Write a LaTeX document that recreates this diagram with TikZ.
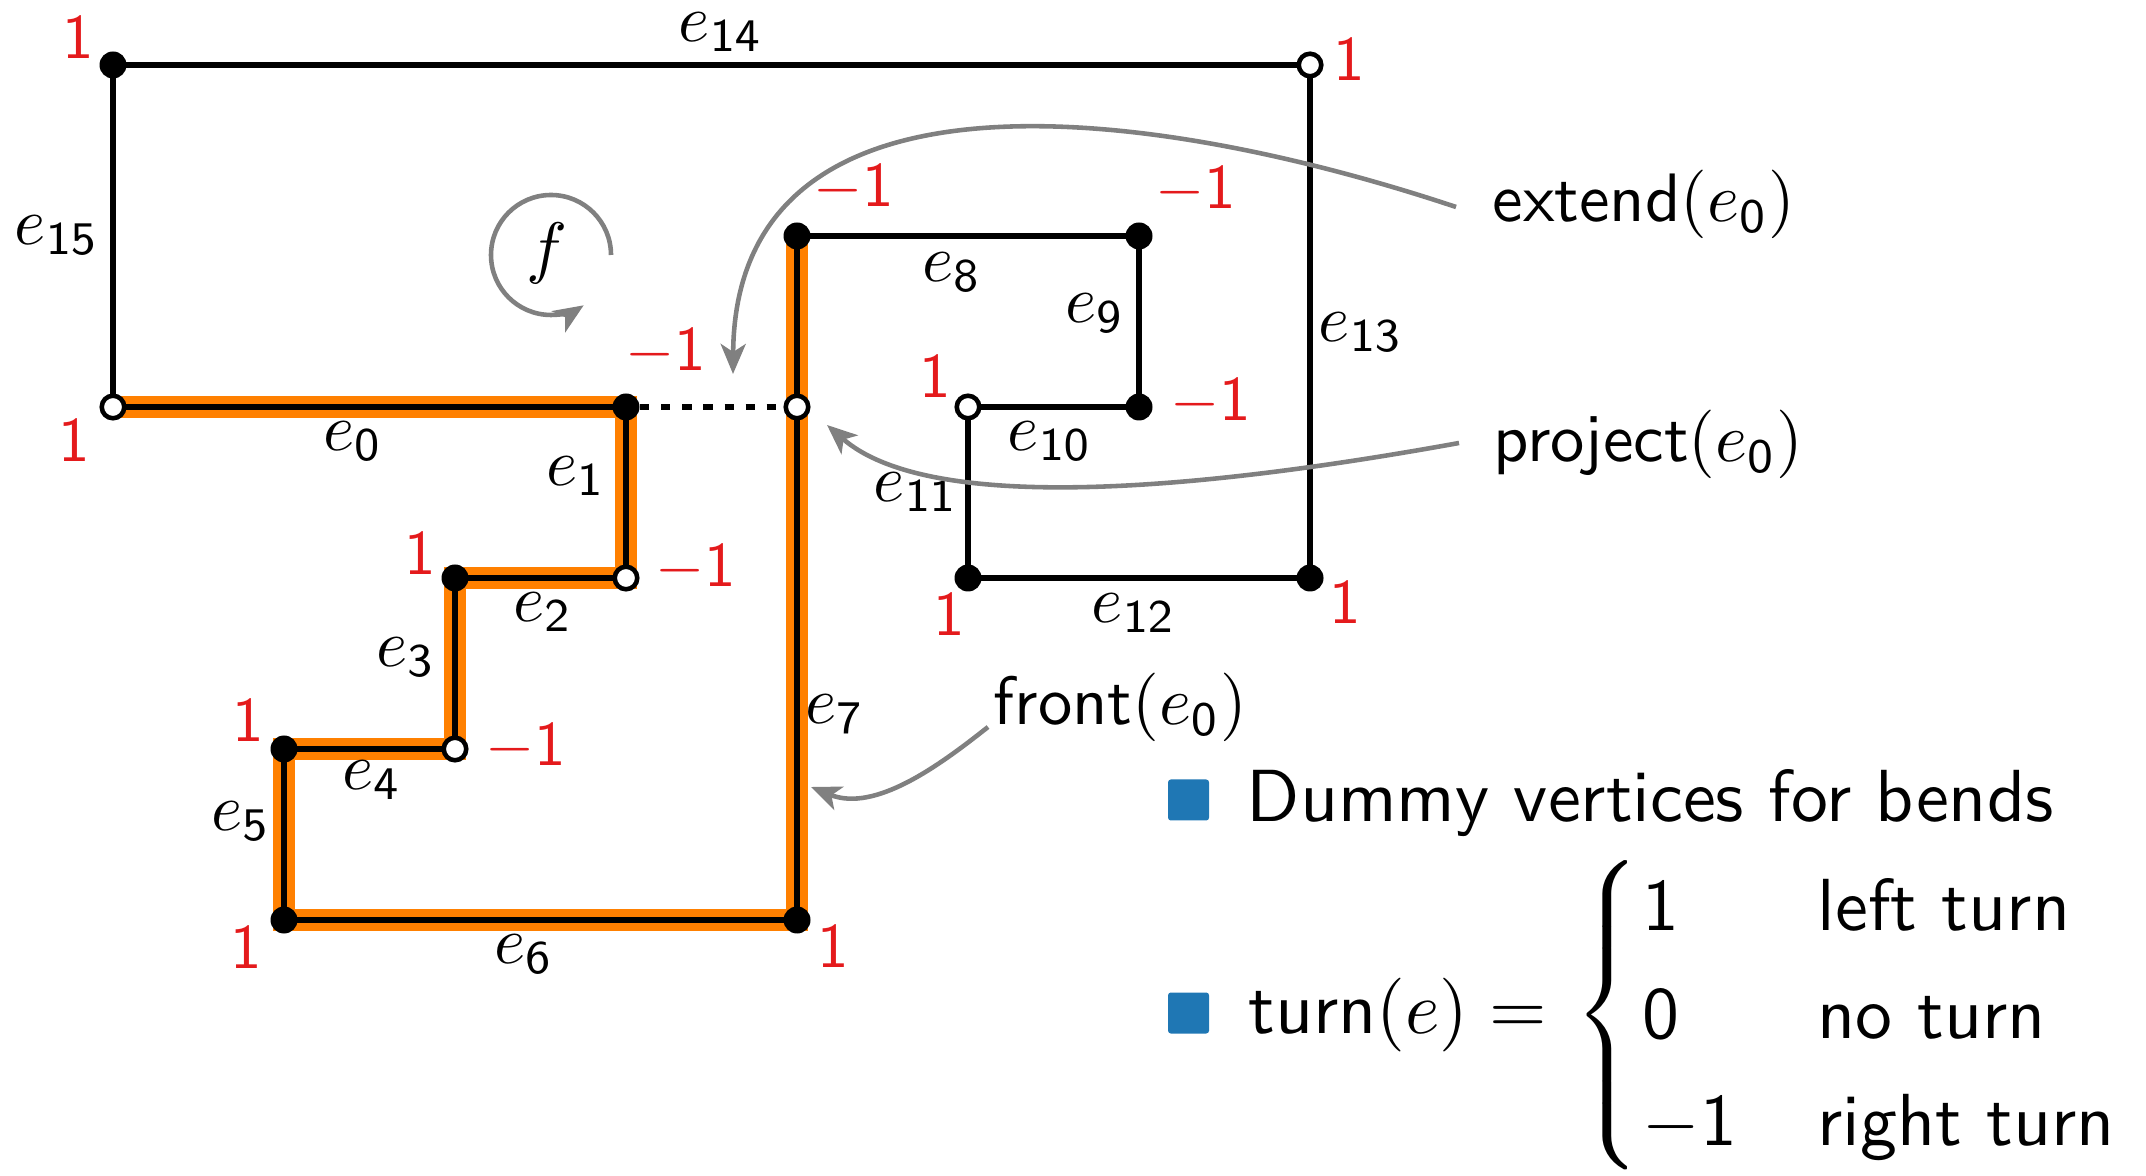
\RequirePackage{fix-cm}
\documentclass[tikz,border=0pt]{standalone}
\usepackage{amsmath}
\usepackage{graphicx}
\usetikzlibrary{arrows.meta}
\definecolor{hlorange}{RGB}{255,128,0}
\definecolor{lblred}{RGB}{228,26,28}
\definecolor{anngray}{RGB}{128,128,128}
\definecolor{bulblue}{RGB}{31,119,180}
\pgfdeclarelayer{background}
\pgfsetlayers{background,main}
\newcommand{\redlab}[1]{\scalebox{1.8}{#1}}
\newcommand{\edgelab}[1]{\scalebox{1.9}{#1}}
\newcommand{\annlab}[1]{\scalebox{1.95}{#1}}
\newcommand{\leglab}[1]{\scalebox{2.1}{#1}}
\tikzset{
  fv/.style={circle, fill=black, inner sep=0pt, minimum size=0.27cm},
  ov/.style={circle, draw=black, fill=white, line width=1.3pt, inner sep=0pt, minimum size=0.225cm},
  graphedge/.style={line width=1.6pt, draw=black},
  hledge/.style={line width=6.2pt, draw=hlorange, line join=miter},
  elab/.style={inner sep=0pt, font=\fontsize{10}{12}\selectfont},
  vlab/.style={inner sep=0pt, text=lblred, font=\fontsize{10}{12}\selectfont},
  ann/.style={draw=anngray, line width=1.3pt, -{Stealth[length=0.3cm,width=0.25cm,inset=0.08cm]}},
  txt/.style={inner sep=0pt, anchor=base west, font=\sffamily\fontsize{10}{12}\selectfont},
  bullet/.style={fill=bulblue, rounded corners=0.8pt, minimum size=0.41cm, inner sep=0pt},
}
\begin{document}
\begin{tikzpicture}
\useasboundingbox (0,0) rectangle (21.46,11.75);
% vertices
\node[ov] (v0)  at (1.13,7.68) {};
\node[fv] (v1)  at (6.26,7.68) {};
\node[ov] (v2)  at (6.26,5.97) {};
\node[fv] (v3)  at (4.55,5.97) {};
\node[ov] (v4)  at (4.55,4.26) {};
\node[fv] (v5)  at (2.84,4.26) {};
\node[fv] (v6)  at (2.84,2.55) {};
\node[fv] (v7)  at (7.97,2.55) {};
\node[fv] (v8)  at (7.97,9.39) {};
\node[fv] (v9)  at (11.39,9.39) {};
\node[fv] (v10) at (11.39,7.68) {};
\node[ov] (v11) at (9.68,7.68) {};
\node[fv] (v12) at (9.68,5.97) {};
\node[fv] (v13) at (13.10,5.97) {};
\node[ov] (v14) at (13.10,11.10) {};
\node[fv] (v15) at (1.13,11.10) {};
\node[ov] (p)   at (7.97,7.68) {};
% edges
\begin{pgfonlayer}{background}
\draw[hledge] (v0.center) -- (v1.center) -- (v2.center) -- (v3.center) -- (v4.center)
  -- (v5.center) -- (v6.center) -- (v7.center) -- (v8.center);
\draw[graphedge] (v0.center) -- (v1.center) -- (v2.center) -- (v3.center) -- (v4.center)
  -- (v5.center) -- (v6.center) -- (v7.center) -- (v8.center) -- (v9.center)
  -- (v10.center) -- (v11.center) -- (v12.center) -- (v13.center) -- (v14.center)
  -- (v15.center) -- cycle;
\end{pgfonlayer}
\draw[graphedge, dash pattern=on 2.6pt off 3.4pt] (v1) -- (p);
% edge labels
\node[elab] (le0)  at (3.53,7.34)  {\edgelab{$e_{\mathsf{0}}$}};
\node[elab] (le1)  at (5.76,6.99)  {\edgelab{$e_{\mathsf{1}}$}};
\node[elab] (le2)  at (5.43,5.63)  {\edgelab{$e_{\mathsf{2}}$}};
\node[elab] (le3)  at (4.06,5.18)  {\edgelab{$e_{\mathsf{3}}$}};
\node[elab] (le4)  at (3.72,3.95)  {\edgelab{$e_{\mathsf{4}}$}};
\node[elab] (le5)  at (2.41,3.54)  {\edgelab{$e_{\mathsf{5}}$}};
\node[elab] (le6)  at (5.24,2.21)  {\edgelab{$e_{\mathsf{6}}$}};
\node[elab] (le7)  at (8.35,4.61)  {\edgelab{$e_{\mathsf{7}}$}};
\node[elab] (le8)  at (9.52,9.03)  {\edgelab{$e_{\mathsf{8}}$}};
\node[elab] (le9)  at (10.95,8.62) {\edgelab{$e_{\mathsf{9}}$}};
\node[elab] (le10) at (10.50,7.34) {\edgelab{$e_{\mathsf{10}}$}};
\node[elab] (le11) at (9.16,6.83)  {\edgelab{$e_{\mathsf{11}}$}};
\node[elab] (le12) at (11.34,5.62) {\edgelab{$e_{\mathsf{12}}$}};
\node[elab] (le13) at (13.61,8.43) {\edgelab{$e_{\mathsf{13}}$}};
\node[elab] (le14) at (7.21,11.43) {\edgelab{$e_{\mathsf{14}}$}};
\node[elab] (le15) at (0.57,9.40)  {\edgelab{$e_{\mathsf{15}}$}};
% turn labels
\node[vlab] (l15) at (0.78,11.37) {\redlab{$\mathsf{1}$}};
\node[vlab] (l14) at (13.49,11.15) {\redlab{$\mathsf{1}$}};
\node[vlab] (l0)  at (0.74,7.34)  {\redlab{$\mathsf{1}$}};
\node[vlab] (l1)  at (6.66,8.23)  {\redlab{$-\mathsf{1}$}};
\node[vlab] (l2)  at (6.96,6.07)  {\redlab{$-\mathsf{1}$}};
\node[vlab] (l3)  at (4.20,6.21)  {\redlab{$\mathsf{1}$}};
\node[vlab] (l4)  at (5.26,4.28)  {\redlab{$-\mathsf{1}$}};
\node[vlab] (l5)  at (2.48,4.54)  {\redlab{$\mathsf{1}$}};
\node[vlab] (l6)  at (2.46,2.27)  {\redlab{$\mathsf{1}$}};
\node[vlab] (l7)  at (8.33,2.28)  {\redlab{$\mathsf{1}$}};
\node[vlab] (l8)  at (8.54,9.87)  {\redlab{$-\mathsf{1}$}};
\node[vlab] (l9)  at (11.96,9.85) {\redlab{$-\mathsf{1}$}};
\node[vlab] (l10) at (12.11,7.73) {\redlab{$-\mathsf{1}$}};
\node[vlab] (l11) at (9.35,7.98)  {\redlab{$\mathsf{1}$}};
\node[vlab] (l12) at (9.49,5.60)  {\redlab{$\mathsf{1}$}};
\node[vlab] (l13) at (13.45,5.72) {\redlab{$\mathsf{1}$}};
% face
\node[elab] (face) at (5.47,9.22) {\annlab{$f$}};
\draw[ann] (6.11,9.20) arc[start angle=0, end angle=303, radius=0.6];
% annotations
\node[txt] (ext)  at (14.92,9.53) {\annlab{extend$(e_{\mathsf{0}})$}};
\node[txt] (proj) at (14.93,7.13) {\annlab{project$(e_{\mathsf{0}})$}};
\node[txt] (frt)  at (9.93,4.50)  {\annlab{front$(e_{\mathsf{0}})$}};
\coordinate (xs) at (14.56,9.68);
\coordinate (xe) at (7.33,8.01);
\coordinate (ps) at (14.59,7.32);
\coordinate (pe) at (8.27,7.50);
\coordinate (fs) at (9.88,4.48);
\coordinate (fe) at (8.11,3.88);
\draw[ann] (xs) .. controls (11.5,10.7) and (7.35,11.25) .. (xe);
\draw[ann] (ps) .. controls (12.0,6.85) and (9.3,6.6) .. (pe);
\draw[ann] (fs) .. controls (9.4,4.1) and (8.75,3.62) .. (fe);
% legend
\node[bullet] (b1) at (11.885,3.75) {};
\node[bullet] (b2) at (11.885,1.62) {};
\node[txt] (dummy) at (12.46,3.54) {\leglab{Dummy vertices for bends}};
\node[txt] (turn)  at (12.48,1.42) {\leglab{turn$(e)=$}};
\node[elab] (brace) at (16.12,1.60)
  {\leglab{$\left\{\vcenter{\hbox{\rule{0pt}{1.47cm}}}\right.$}};
\node[txt] (c1) at (16.42,2.45) {\leglab{$\mathsf{1}$}};
\node[txt] (c2) at (16.42,1.37) {\leglab{$\mathsf{0}$}};
\node[txt] (c3) at (16.42,0.30) {\leglab{$-\mathsf{1}$}};
\node[txt] (t1) at (18.17,2.45) {\leglab{left turn}};
\node[txt] (t2) at (18.17,1.37) {\leglab{no turn}};
\node[txt] (t3) at (18.17,0.30) {\leglab{right turn}};
\end{tikzpicture}
\end{document}
